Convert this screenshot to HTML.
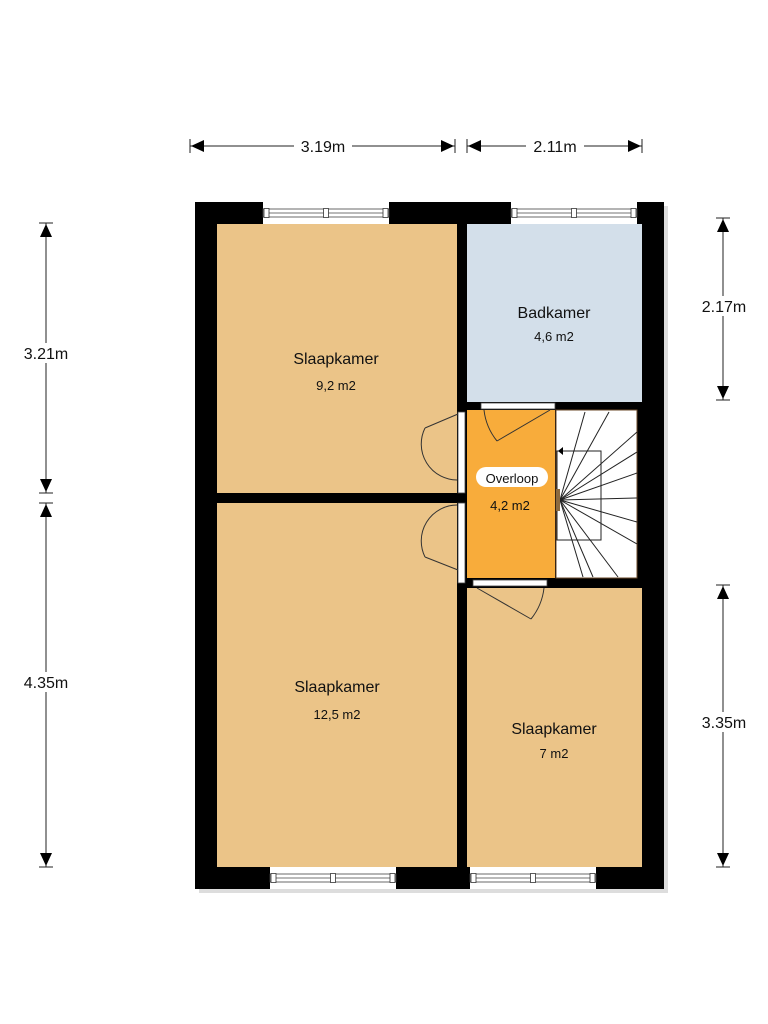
<!DOCTYPE html>
<html><head><meta charset="utf-8"><style>
html,body{margin:0;padding:0;background:#fff;}
svg{display:block;}
text{font-family:"Liberation Sans",Arial,sans-serif;fill:#111;}
</style></head><body>
<svg width="768" height="1024" viewBox="0 0 768 1024" xmlns="http://www.w3.org/2000/svg">
<defs>
<g id="win">
 <rect x="0" y="0" width="126" height="22" fill="#fff"/>
 <rect x="0" y="7" width="126" height="8" fill="#fff" stroke="#444" stroke-width="0.8"/>
 <line x1="2" y1="11" x2="124" y2="11" stroke="#444" stroke-width="0.8"/>
 <rect x="1" y="6.5" width="5" height="9" fill="#fff" stroke="#333" stroke-width="0.8"/>
 <rect x="60.5" y="6.5" width="5" height="9" fill="#fff" stroke="#333" stroke-width="0.8"/>
 <rect x="120" y="6.5" width="5" height="9" fill="#fff" stroke="#333" stroke-width="0.8"/>
</g>
</defs>
<!-- shadow -->
<rect x="199" y="206" width="469" height="687" fill="#bbb" opacity="0.5"/>
<!-- outer walls -->
<rect x="195" y="202" width="469" height="687" fill="#000"/>
<!-- rooms -->
<rect x="217" y="224" width="240" height="269" fill="#ebc488"/>
<rect x="217" y="503" width="240" height="364" fill="#ebc488"/>
<rect x="467" y="224" width="175" height="178" fill="#d3dfea"/>
<rect x="467" y="410" width="88" height="168" fill="#f8ac3b"/>
<rect x="556" y="410" width="81" height="168" fill="#fff" stroke="#6b4a2a" stroke-width="1"/>
<rect x="467" y="588" width="175" height="279" fill="#ebc488"/>
<!-- stairs -->
<g stroke="#222" stroke-width="1" fill="none">
 <rect x="557" y="451" width="44" height="89"/>
 <line x1="560" y1="500" x2="585" y2="412"/>
 <line x1="560" y1="500" x2="609" y2="412"/>
 <line x1="560" y1="500" x2="637" y2="432"/>
 <line x1="560" y1="500" x2="637" y2="452"/>
 <line x1="560" y1="500" x2="637" y2="473"/>
 <line x1="560" y1="500" x2="637" y2="498"/>
 <line x1="560" y1="500" x2="637" y2="522"/>
 <line x1="560" y1="500" x2="637" y2="544"/>
 <line x1="560" y1="500" x2="618" y2="577"/>
 <line x1="560" y1="500" x2="593" y2="577"/>
 <line x1="560" y1="500" x2="583" y2="577"/>
</g>
<rect x="556" y="489" width="4" height="22" fill="#8b6a40"/>
<polygon points="558,451 563,447 563,455" fill="#000"/>
<!-- windows -->
<use href="#win" x="263" y="202"/>
<use href="#win" x="511" y="202"/>
<use href="#win" x="270" y="867"/>
<use href="#win" x="470" y="867"/>
<!-- door openings -->
<g fill="#fff" stroke="#444" stroke-width="0.8">
 <rect x="458" y="412" width="7" height="81"/>
 <rect x="458" y="503" width="7" height="80"/>
 <rect x="481" y="403" width="74" height="6"/>
 <rect x="473" y="580" width="74" height="6"/>
</g>
<g stroke="#333" stroke-width="1" fill="none">
 <line x1="458" y1="414" x2="425" y2="428"/><path d="M425,428 A36,36 0 0 0 457,480"/>
 <line x1="458" y1="570" x2="425" y2="557"/><path d="M425,557 A36,36 0 0 1 457,505"/>
 <line x1="550" y1="410" x2="497" y2="441"/><path d="M497,441 A60,60 0 0 1 484,410"/>
 <line x1="477" y1="588" x2="531" y2="619"/><path d="M531,619 A60,60 0 0 0 544,588"/>
</g>
<!-- labels -->
<g text-anchor="middle">
 <text x="336" y="364" font-size="16">Slaapkamer</text>
 <text x="336" y="390" font-size="13">9,2 m2</text>
 <text x="337" y="692" font-size="16">Slaapkamer</text>
 <text x="337" y="719" font-size="13">12,5 m2</text>
 <text x="554" y="318" font-size="16">Badkamer</text>
 <text x="554" y="341" font-size="13">4,6 m2</text>
 <text x="554" y="734" font-size="16">Slaapkamer</text>
 <text x="554" y="758" font-size="13">7 m2</text>
 <rect x="476" y="467" width="72" height="20" rx="10" fill="#fff"/>
 <text x="512" y="483" font-size="13">Overloop</text>
 <text x="510" y="510" font-size="13">4,2 m2</text>
</g>
<!-- dimensions -->
<g stroke="#222" stroke-width="1">
 <line x1="190" y1="146" x2="455" y2="146"/>
 <line x1="190" y1="139" x2="190" y2="153"/><line x1="455" y1="139" x2="455" y2="153"/>
 <line x1="467" y1="146" x2="642" y2="146"/>
 <line x1="467" y1="139" x2="467" y2="153"/><line x1="642" y1="139" x2="642" y2="153"/>
 <line x1="46" y1="223" x2="46" y2="493"/>
 <line x1="39" y1="223" x2="53" y2="223"/><line x1="39" y1="493" x2="53" y2="493"/>
 <line x1="46" y1="503" x2="46" y2="867"/>
 <line x1="39" y1="503" x2="53" y2="503"/><line x1="39" y1="867" x2="53" y2="867"/>
 <line x1="723" y1="218" x2="723" y2="400"/>
 <line x1="716" y1="218" x2="730" y2="218"/><line x1="716" y1="400" x2="730" y2="400"/>
 <line x1="723" y1="585" x2="723" y2="867"/>
 <line x1="716" y1="585" x2="730" y2="585"/><line x1="716" y1="867" x2="730" y2="867"/>
</g>
<g fill="#000">
 <polygon points="191,146 204,140 204,152"/><polygon points="454,146 441,140 441,152"/>
 <polygon points="468,146 481,140 481,152"/><polygon points="641,146 628,140 628,152"/>
 <polygon points="46,224 40,237 52,237"/><polygon points="46,492 40,479 52,479"/>
 <polygon points="46,504 40,517 52,517"/><polygon points="46,866 40,853 52,853"/>
 <polygon points="723,219 717,232 729,232"/><polygon points="723,399 717,386 729,386"/>
 <polygon points="723,586 717,599 729,599"/><polygon points="723,866 717,853 729,853"/>
</g>
<g font-size="16" text-anchor="middle">
 <rect x="294" y="136" width="58" height="20" fill="#fff"/>
 <text x="323" y="152">3.19m</text>
 <rect x="526" y="136" width="58" height="20" fill="#fff"/>
 <text x="555" y="152">2.11m</text>
 <rect x="20" y="343" width="56" height="20" fill="#fff"/>
 <text x="46" y="359">3.21m</text>
 <rect x="16" y="672" width="60" height="20" fill="#fff"/>
 <text x="46" y="688">4.35m</text>
 <rect x="696" y="296" width="56" height="20" fill="#fff"/>
 <text x="724" y="312">2.17m</text>
 <rect x="696" y="712" width="56" height="20" fill="#fff"/>
 <text x="724" y="728">3.35m</text>
</g>
</svg>
</body></html>
